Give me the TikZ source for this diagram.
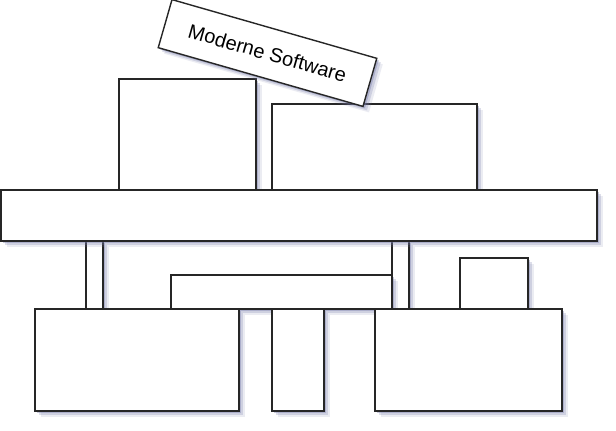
\documentclass[tikz,border=0pt]{standalone}
\usepackage{fontspec}
\setsansfont{Liberation Sans}
\usetikzlibrary{shadows}
\definecolor{shadowblue}{RGB}{120,125,170}
\begin{document}
\begin{tikzpicture}[x=1pt,y=-1pt,
  block/.style={draw=black!85,line width=1.4pt,fill=white,inner sep=0pt,outer sep=0pt,anchor=north west,
    drop shadow={shadow xshift=6pt,shadow yshift=-6pt,fill=shadowblue,opacity=0.15},
    drop shadow={shadow xshift=4pt,shadow yshift=-4pt,fill=shadowblue,opacity=0.25},
    drop shadow={shadow xshift=2pt,shadow yshift=-2pt,fill=shadowblue,opacity=0.4}},
  label/.style={block,anchor=center,font=\sffamily\fontsize{20}{24}\selectfont}]
  \useasboundingbox (0,0) rectangle (616,431);

  %pillars
  \node[block,minimum width=17pt,minimum height=68pt] (pillarL) at (86,241) {};
  \node[block,minimum width=17pt,minimum height=68pt] (pillarR) at (392,241) {};
  \node[block,minimum width=221pt,minimum height=34pt] (midbar) at (171,275) {};
  \node[block,minimum width=68pt,minimum height=51pt] (small) at (460,258) {};

  %bottom row
  \node[block,minimum width=204pt,minimum height=102pt] (botL) at (35,309) {};
  \node[block,minimum width=52pt,minimum height=102pt] (botM) at (272,309) {};
  \node[block,minimum width=187pt,minimum height=102pt] (botR) at (375,309) {};

  %top row
  \node[block,minimum width=137pt,minimum height=111pt] (topL) at (119,79) {};
  \node[block,minimum width=205pt,minimum height=86pt] (topR) at (272,104) {};
  \node[block,minimum width=596pt,minimum height=51pt] (bar) at (1,190) {};

  %label
  \node[label,rotate=-16,minimum width=213pt,minimum height=50pt] (modern) at (267.5,53) {Moderne Software};
\end{tikzpicture}
\end{document}
